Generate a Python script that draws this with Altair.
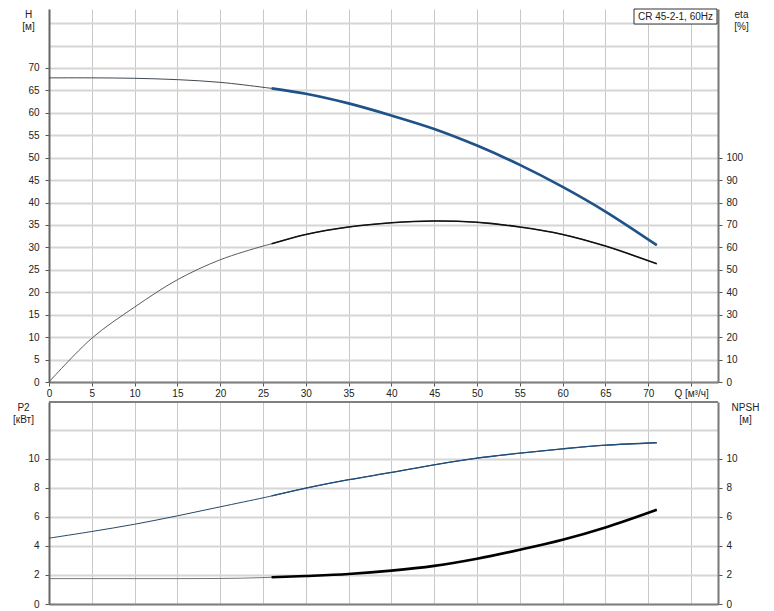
import altair as alt
import pandas as pd

# ---- data ----
Q = [0, 5, 10, 15, 20, 25, 26, 30, 35, 40, 45, 50, 55, 60, 65, 71]
H = [67.8, 67.8, 67.7, 67.4, 66.8, 65.7, 65.45, 64.25, 62.1, 59.4, 56.4, 52.7, 48.4, 43.5, 38.0, 30.5]
ETA = [0, 19.5, 33.4, 45.6, 54.5, 60.6, 61.6, 65.8, 69.1, 71.0, 71.8, 71.2, 69.1, 65.8, 60.6, 52.7]
P2 = [4.54, 5.0, 5.5, 6.08, 6.7, 7.32, 7.45, 7.99, 8.57, 9.07, 9.6, 10.06, 10.4, 10.7, 10.95, 11.12]
NPSH = [1.75, 1.75, 1.75, 1.75, 1.76, 1.82, 1.84, 1.93, 2.07, 2.3, 2.63, 3.12, 3.74, 4.43, 5.28, 6.5]
SPLIT_Q = 26
X_TICKS = list(range(0, 80, 5))
H_TICKS = list(range(0, 85, 5))
ETA_TICKS = list(range(0, 110, 10))
P_TICKS = list(range(0, 14, 2))
N_TICKS = list(range(0, 12, 2))
LABEL = "CR 45-2-1, 60Hz"

SERIES = ["H thin", "H thick", "eta thin", "eta thick",
          "P2 thin", "P2 thick", "NPSH thin", "NPSH thick"]
COLORS = ["#2a3440", "#1f5289", "#4a4a4a", "#111111",
          "#274766", "#1f4d7c", "#666666", "#000000"]
WIDTHS = [0.9, 2.7, 0.9, 1.6, 1, 1.3, 0.9, 2.6]


def curve(name, vals):
    rows = []
    for q, v in zip(Q, vals):
        rows.append({"Q": q, "val": v, "series": name + " thin"})
    for q, v in zip(Q, vals):
        if q >= SPLIT_Q:
            rows.append({"Q": q, "val": v, "series": name + " thick"})
    return pd.DataFrame(rows)


W, HT, HB = 669, 373, 202
xscale = alt.Scale(domain=[0, 78.15], nice=False, zero=True)
cscale = alt.Scale(domain=SERIES, range=COLORS)
wscale = alt.Scale(type="ordinal", domain=SERIES, range=WIDTHS)

hide_tick = lambda lim: {"condition": {"test": f"datum.value > {lim}", "value": 0}, "value": 1}


def line_layer(df, yscale, yaxis, xaxis, interp="catmull-rom"):
    return alt.Chart(df).mark_line(interpolate=interp).encode(
        x=alt.X("Q:Q", scale=xscale, axis=xaxis),
        y=alt.Y("val:Q", scale=yscale, axis=yaxis),
        color=alt.Color("series:N", scale=cscale, legend=None),
        strokeWidth=alt.StrokeWidth("series:N", scale=wscale, legend=None),
    )


x_top = alt.Axis(values=X_TICKS, title=None, grid=True, gridColor="#c8c8c8", gridWidth=1,
                 labelExpr="datum.value == 75 ? 'Q [м³/ч]' : datum.label",
                 domainColor="#808080", domainWidth=2, tickSize=4, labelFlush=False)
x_bot = alt.Axis(values=X_TICKS, title=None, grid=True, gridColor="#c8c8c8", gridWidth=1,
                 labels=False, ticks=False, domainColor="#808080", domainWidth=2)

h_axis = alt.Axis(orient="left", values=H_TICKS, grid=True, gridColor="#d6d6d6", gridWidth=2,
                  labelExpr="datum.value <= 70 ? datum.label : ''", tickOpacity=hide_tick(70),
                  title=["H", "[м]"], titleAngle=0, titleAlign="center", titleBaseline="top",
                  titleX=-21, titleY=0, domainColor="#666666", domainWidth=2, tickSize=4,
                  labelPadding=6)
eta_axis = alt.Axis(orient="right", values=ETA_TICKS, grid=False,
                    title=["eta", "[%]"], titleAngle=0, titleAlign="center", titleBaseline="top",
                    titleX=23, titleY=0, domainColor="#777777", domainWidth=2, tickSize=4,
                    labelPadding=4)
p_axis = alt.Axis(orient="left", values=P_TICKS, grid=True, gridColor="#d6d6d6", gridWidth=2,
                  labelExpr="datum.value <= 10 ? datum.label : ''", tickOpacity=hide_tick(10),
                  title=["P2", "[кВт]"], titleAngle=0, titleAlign="center", titleBaseline="top",
                  titleX=-26, titleY=0, domainColor="#666666", domainWidth=2, tickSize=4,
                  labelPadding=6)
n_axis = alt.Axis(orient="right", values=N_TICKS, grid=False,
                  title=["NPSH", "[м]"], titleAngle=0, titleAlign="center", titleBaseline="top",
                  titleX=27, titleY=0, domainColor="#777777", domainWidth=2, tickSize=4,
                  labelPadding=4)

h_layer = line_layer(curve("H", H), alt.Scale(domain=[0, 83.15], nice=False), h_axis, x_top)
eta_layer = line_layer(curve("eta", ETA), alt.Scale(domain=[0, 166.3], nice=False), eta_axis, x_top)

one = pd.DataFrame({"t": [LABEL]})
box = alt.Chart(one).mark_rect(fill="white", stroke="#333333", strokeWidth=1).encode(
    x=alt.value(585), x2=alt.value(668), y=alt.value(0), y2=alt.value(15))
box_text = alt.Chart(one).mark_text(font="Liberation Sans", fontSize=10, color="#222222",
                                    align="center", baseline="middle").encode(
    x=alt.value(626.5), y=alt.value(8), text="t:N")

top = alt.layer(h_layer, eta_layer, box, box_text).resolve_scale(y="independent").properties(
    width=W, height=HT)

p_layer = line_layer(curve("P2", P2), alt.Scale(domain=[0, 13.93], nice=False), p_axis, x_bot)
n_layer = line_layer(curve("NPSH", NPSH), alt.Scale(domain=[0, 13.93], nice=False), n_axis, x_bot,
                     interp="monotone")
top_rule = alt.Chart(one).mark_rule(color="#808080", strokeWidth=2).encode(
    x=alt.value(0), x2=alt.value(W), y=alt.value(0))

bottom = alt.layer(p_layer, n_layer, top_rule).resolve_scale(y="independent").properties(
    width=W, height=HB)

chart = alt.vconcat(top, bottom, spacing=20, bounds="flush").properties(
    padding={"left": 4, "top": 0, "right": 0, "bottom": 0}
).configure_view(stroke=None).configure_axis(
    labelFont="Liberation Sans", titleFont="Liberation Sans", labelFontSize=10,
    titleFontSize=10, titleFontWeight="normal", labelColor="#222222", titleColor="#222222",
    tickColor="#555555", titleLineHeight=12
)

chart.save("out.html", embed_options={"renderer": "svg", "actions": False})
